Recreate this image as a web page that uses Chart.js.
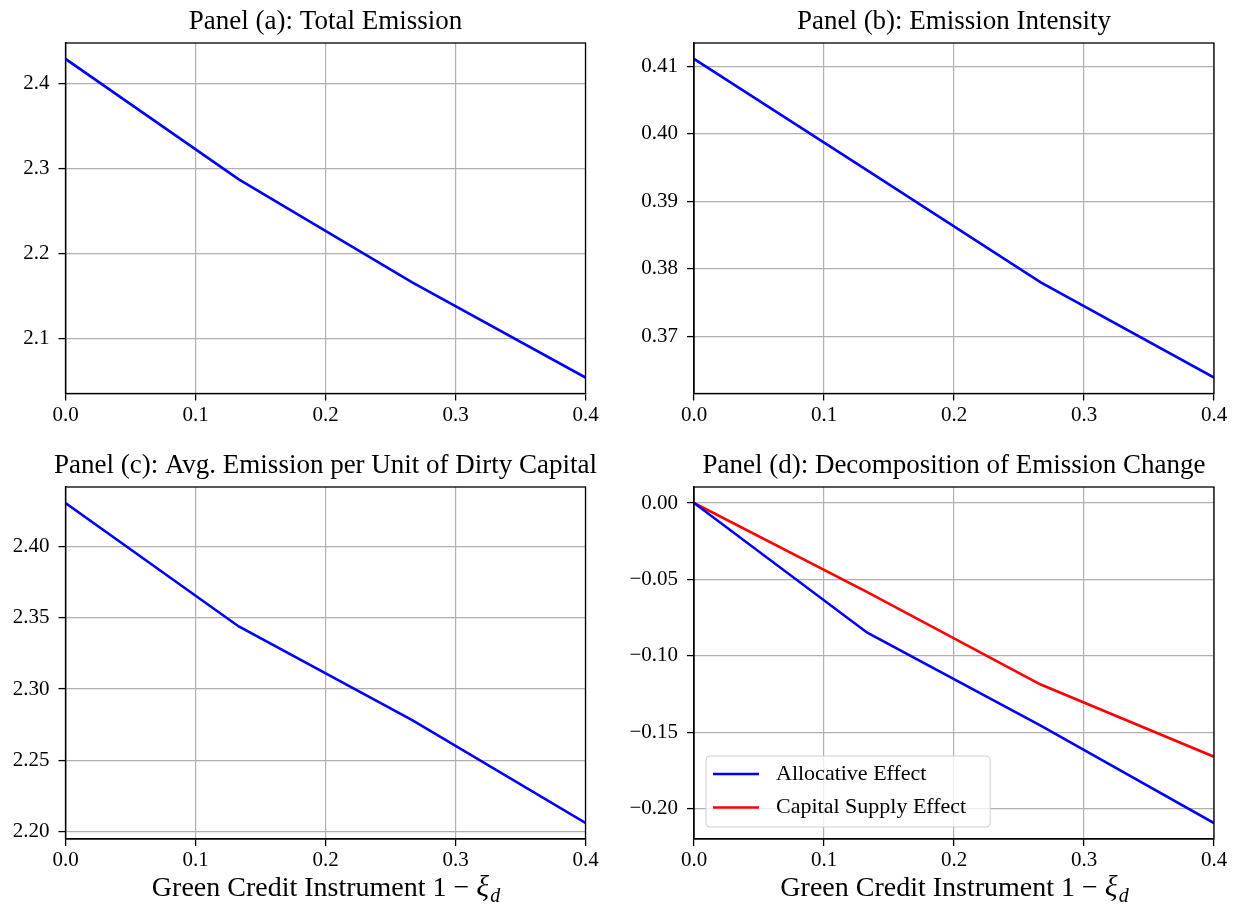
<!DOCTYPE html>
<html lang="en">
<head>
<meta charset="UTF-8">
<title>Green Credit Instrument and Emissions</title>
<script src="https://cdn.jsdelivr.net/npm/chart.js"></script>
<style>
    body {
        margin: 0;
        background: #fff;
    }
    #wrap {
        position: relative;
        width: 1239px;
        height: 913px;
        background: #fff;
    }
    canvas {
        position: absolute;
    }
</style>
</head>
<body>
<div id="wrap"></div>

<script>
    // x grid: green credit instrument 1 - xi_d
    const xValues = [0, 0.1333, 0.2667, 0.4];
    const xTicks = [0, 0.1, 0.2, 0.3, 0.4];

    // series
    const totalEmission = [2.4293, 2.2876, 2.1664, 2.0543];
    const emissionIntensity = [0.4111, 0.3946, 0.3780, 0.3639];
    const avgEmissionDirty = [2.4305, 2.3439, 2.2782, 2.2061];
    const allocativeEffect = [0, -0.0849, -0.1457, -0.2094];
    const capitalSupplyEffect = [0, -0.0583, -0.1188, -0.1660];

    // y tick labels per panel
    const yTicksA = [2.1, 2.2, 2.3, 2.4];
    const yTicksB = [0.37, 0.38, 0.39, 0.40, 0.41];
    const yTicksC = [2.20, 2.25, 2.30, 2.35, 2.40];
    const yTicksD = [-0.20, -0.15, -0.10, -0.05, 0.00];

    const FONT = '"Liberation Serif", "DejaVu Serif", serif';
    const xLabelMain = 'Green Credit Instrument 1 \u2212 ';

    function fmt(v, dec) {
        return v.toFixed(dec).replace('-', '\u2212');
    }

    // frame, panel title and the x label with its subscript
    const panelText = {
        id: 'panelText',
        afterDraw(chart, args, opts) {
            const ctx = chart.ctx;
            const a = chart.chartArea;
            ctx.save();
            ctx.strokeStyle = '#000';
            ctx.lineWidth = 1.3;
            ctx.strokeRect(a.left, a.top, a.right - a.left, a.bottom - a.top);

            ctx.fillStyle = '#000';
            ctx.font = '27px ' + FONT;
            ctx.textAlign = 'center';
            ctx.textBaseline = 'middle';
            ctx.fillText(opts.title, (a.left + a.right) / 2, a.top - 21);

            if (opts.xlabel) {
                const big = '28px ' + FONT;
                const ital = 'italic 30px ' + FONT;
                const sub = 'italic 20px ' + FONT;
                ctx.textAlign = 'left';
                ctx.textBaseline = 'alphabetic';
                ctx.font = big;
                const w1 = ctx.measureText(xLabelMain).width;
                ctx.font = ital;
                const w2 = ctx.measureText('\u03be').width;
                ctx.font = sub;
                const w3 = ctx.measureText('d').width;
                let x = (a.left + a.right) / 2 - (w1 + w2 + w3) / 2;
                const base = a.bottom + 57;
                ctx.font = big;
                ctx.fillText(xLabelMain, x, base);
                x += w1;
                ctx.font = ital;
                ctx.fillText('\u03be', x, base);
                x += w2 + 1;
                ctx.font = sub;
                ctx.fillText('d', x, base + 6);
            }
            ctx.restore();
        }
    };

    // matplotlib-like legend box in the lower left of the plot
    const boxLegend = {
        id: 'boxLegend',
        afterDatasetsDraw(chart, args, opts) {
            if (!opts.show) return;
            const ctx = chart.ctx;
            const a = chart.chartArea;
            const sets = chart.data.datasets;
            ctx.save();
            ctx.font = '22px ' + FONT;
            let tw = 0;
            sets.forEach(d => { tw = Math.max(tw, ctx.measureText(d.label).width); });
            const rowH = 33.5;
            const w = 7 + 46 + 17 + tw + 24;
            const h = sets.length * rowH + 4;
            const x0 = a.left + 12;
            const y0 = a.bottom - 12 - h;
            ctx.beginPath();
            ctx.roundRect(x0, y0, w, h, 4);
            ctx.fillStyle = 'rgba(255,255,255,0.8)';
            ctx.fill();
            ctx.strokeStyle = '#d0d0d0';
            ctx.lineWidth = 1;
            ctx.stroke();
            sets.forEach((d, i) => {
                const cy = y0 + 18 + i * rowH;
                ctx.beginPath();
                ctx.moveTo(x0 + 7, cy);
                ctx.lineTo(x0 + 53, cy);
                ctx.strokeStyle = d.borderColor;
                ctx.lineWidth = 2.6;
                ctx.stroke();
                ctx.fillStyle = '#000';
                ctx.textBaseline = 'middle';
                ctx.fillText(d.label, x0 + 70, cy);
            });
            ctx.restore();
        }
    };

    const panels = [
        { title: 'Panel (a): Total Emission', col: 0, row: 0, yTicks: yTicksA, dec: 1,
          series: [{ label: 'Total Emission', data: totalEmission, color: '#0000ff' }] },
        { title: 'Panel (b): Emission Intensity', col: 1, row: 0, yTicks: yTicksB, dec: 2,
          series: [{ label: 'Emission Intensity', data: emissionIntensity, color: '#0000ff' }] },
        { title: 'Panel (c): Avg. Emission per Unit of Dirty Capital', col: 0, row: 1, yTicks: yTicksC, dec: 2,
          series: [{ label: 'Avg. Emission', data: avgEmissionDirty, color: '#0000ff' }] },
        { title: 'Panel (d): Decomposition of Emission Change', col: 1, row: 1, yTicks: yTicksD, dec: 2, legend: true,
          series: [{ label: 'Allocative Effect', data: allocativeEffect, color: '#0000ff' },
                   { label: 'Capital Supply Effect', data: capitalSupplyEffect, color: '#ff0000' }] }
    ];

    const colBox = [
        { left: 0, width: 620, yWidth: 65.5, padRight: 34.5 },
        { left: 620, width: 619, yWidth: 74, padRight: 25 }
    ];
    const rowBox = [
        { top: 0, height: 456, padTop: 43, xHeight: 62.5 },
        { top: 440, height: 473, padTop: 47, xHeight: 74 }
    ];

    const wrap = document.getElementById('wrap');

    panels.forEach(p => {
        const c = colBox[p.col];
        const r = rowBox[p.row];
        const cv = document.createElement('canvas');
        cv.width = c.width;
        cv.height = r.height;
        cv.style.left = c.left + 'px';
        cv.style.top = r.top + 'px';
        cv.style.width = c.width + 'px';
        cv.style.height = r.height + 'px';
        wrap.appendChild(cv);

        // 5% margins round the data, like the original plot
        const all = p.series.flatMap(s => s.data);
        const lo = Math.min(...all);
        const hi = Math.max(...all);
        const m = (hi - lo) * 0.05;

        new Chart(cv.getContext('2d'), {
            type: 'line',
            data: {
                datasets: p.series.map(s => ({
                    label: s.label,
                    data: xValues.map((x, i) => ({ x: x, y: s.data[i] })),
                    borderColor: s.color,
                    backgroundColor: s.color,
                    borderWidth: 2.6,
                    pointRadius: 0,
                    tension: 0,
                    fill: false
                }))
            },
            options: {
                responsive: false,
                animation: false,
                devicePixelRatio: 1,
                layout: { padding: { left: 0, right: c.padRight, top: r.padTop, bottom: 0 } },
                scales: {
                    x: {
                        type: 'linear',
                        min: 0,
                        max: 0.4,
                        afterBuildTicks: s => { s.ticks = xTicks.map(v => ({ value: v })); },
                        afterFit: s => { s.height = r.xHeight; },
                        ticks: {
                            color: '#000',
                            font: { family: FONT, size: 21 },
                            padding: 2,
                            maxRotation: 0,
                            callback: v => fmt(v, 1)
                        },
                        grid: { color: '#b0b0b0', lineWidth: 1.2, tickColor: '#000', tickLength: 7, tickWidth: 1.3 },
                        border: { color: '#000', width: 1.3 }
                    },
                    y: {
                        type: 'linear',
                        min: lo - m,
                        max: hi + m,
                        afterBuildTicks: s => { s.ticks = p.yTicks.map(v => ({ value: v })); },
                        afterFit: s => { s.width = c.yWidth; },
                        ticks: {
                            color: '#000',
                            font: { family: FONT, size: 21 },
                            padding: 9,
                            callback: v => fmt(v, p.dec)
                        },
                        grid: { color: '#b0b0b0', lineWidth: 1.2, tickColor: '#000', tickLength: 7, tickWidth: 1.3 },
                        border: { color: '#000', width: 1.3 }
                    }
                },
                plugins: {
                    legend: { display: false },
                    tooltip: { enabled: false },
                    panelText: { title: p.title, xlabel: p.row === 1 },
                    boxLegend: { show: !!p.legend }
                }
            },
            plugins: [panelText, boxLegend]
        });
    });
</script>
</body>
</html>
